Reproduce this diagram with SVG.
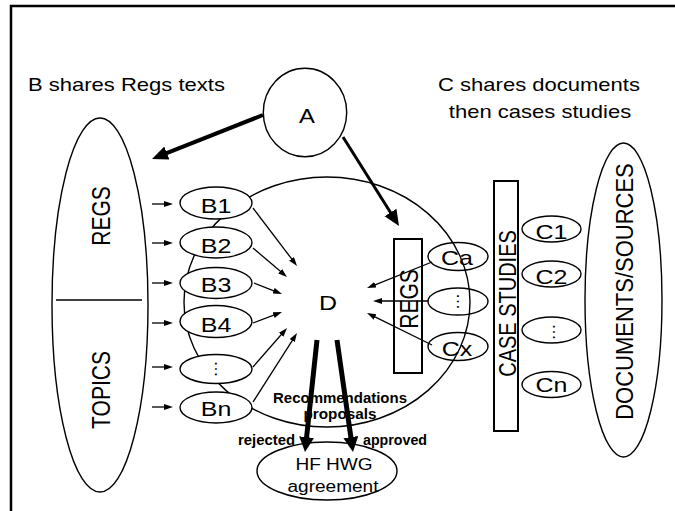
<svg xmlns="http://www.w3.org/2000/svg" width="675" height="511" viewBox="0 0 675 511">
<style>
text{font-family:"Liberation Sans",Arial,sans-serif;fill:#000}
.m{text-anchor:middle}
.h{font-size:18.5px}
.n{font-size:21px}
.b{font-size:15.5px;font-weight:bold;text-anchor:middle}
.sh{fill:#fff;stroke:#000;stroke-width:1.4}
.no{fill:none;stroke:#000;stroke-width:1.4}
.bx{fill:#fff;stroke:#000;stroke-width:2}
.dots{font-size:17px;text-anchor:middle}
.s{stroke:#000;stroke-width:1.3;fill:none;marker-end:url(#hs)}
.t4{stroke:#000;stroke-width:4;fill:none;marker-end:url(#hb)}
.t3{stroke:#000;stroke-width:3;fill:none;marker-end:url(#hb)}
.t5{stroke:#000;stroke-width:5;fill:none;marker-end:url(#hd)}
</style>
<defs>
<marker id="hs" markerUnits="userSpaceOnUse" markerWidth="10" markerHeight="7" refX="3" refY="3" orient="auto"><path d="M0,0 L9,3 L0,6 z" fill="#000"/></marker>
<marker id="hb" markerUnits="userSpaceOnUse" markerWidth="17" markerHeight="15" refX="3" refY="7" orient="auto"><path d="M0,0 L16,7 L0,14 z" fill="#000"/></marker>
<marker id="hd" markerUnits="userSpaceOnUse" markerWidth="16" markerHeight="16" refX="3" refY="7.5" orient="auto"><path d="M0,0 L15,7.5 L0,15 z" fill="#000"/></marker>
</defs>
<rect width="675" height="511" fill="#fff"/>
<path d="M11,512 V6 H676" fill="none" stroke="#000" stroke-width="2.5"/>
<g id="captions">
<text class="h" transform="translate(28,91) scale(1.19,1)">B shares Regs texts</text>
<text class="h m" transform="translate(539,91) scale(1.19,1)">C shares documents</text>
<text class="h m" transform="translate(540,118) scale(1.19,1)">then cases studies</text>
</g>
<g id="regs-topics">
<ellipse class="sh" cx="100" cy="305" rx="48" ry="187"/>
<line x1="56" y1="300" x2="142" y2="300" stroke="#000" stroke-width="1.6"/>
<text class="n m" font-size="20.5" transform="translate(110,216) scale(1.19,1) rotate(-90)">REGS</text>
<text class="n m" transform="translate(110,390) scale(1.19,1) rotate(-90)">TOPICS</text>
</g>
<g id="Ca"><ellipse class="sh" cx="458" cy="256.5" rx="30" ry="14"/><text class="n m" transform="translate(457,265) scale(1.19,1)">Ca</text></g>
<g id="Cdots"><ellipse class="sh" cx="458" cy="301.5" rx="30" ry="13.5"/><text class="dots" transform="translate(457,301.5) rotate(90)">…</text></g>
<g id="Cx"><ellipse class="sh" cx="458" cy="346.5" rx="30" ry="14"/><text class="n m" transform="translate(457,355.5) scale(1.19,1)">Cx</text></g>
<g id="D"><ellipse class="no" cx="327" cy="302" rx="143" ry="125"/><text class="n m" transform="translate(328,310) scale(1.19,1)">D</text></g>
<g id="B1"><ellipse class="sh" cx="216" cy="203" rx="36" ry="16"/><text class="n m" transform="translate(216,212.5) scale(1.19,1)">B1</text></g>
<g id="B2"><ellipse class="sh" cx="216" cy="242.5" rx="36" ry="15.5"/><text class="n m" transform="translate(216,252.5) scale(1.19,1)">B2</text></g>
<g id="B3"><ellipse class="sh" cx="216" cy="283" rx="36" ry="15.5"/><text class="n m" transform="translate(216,292) scale(1.19,1)">B3</text></g>
<g id="B4"><ellipse class="sh" cx="216" cy="321.5" rx="36" ry="16"/><text class="n m" transform="translate(216,331.5) scale(1.19,1)">B4</text></g>
<g id="Bdots"><ellipse class="sh" cx="216" cy="369" rx="36" ry="14.5"/><text class="dots" transform="translate(215,369) rotate(90)">…</text></g>
<g id="Bn"><ellipse class="sh" cx="216" cy="407.5" rx="36" ry="15.5"/><text class="n m" transform="translate(216,415.5) scale(1.19,1)">Bn</text></g>
<g id="A"><ellipse class="sh" cx="305" cy="112.5" rx="41.7" ry="44.2"/><text class="m" font-size="20" transform="translate(307,123) scale(1.19,1)">A</text></g>
<g id="regs-box"><rect class="bx" x="394" y="239" width="28" height="134"/><text class="n m" transform="translate(418,299) scale(1.19,1) rotate(-90)">REGS</text></g>
<g id="case-studies"><rect class="bx" x="494" y="181" width="24" height="250"/><text class="m" font-size="20" transform="translate(515.5,303.5) scale(1.19,1) rotate(-90)">CASE STUDIES</text></g>
<g id="C1"><ellipse class="sh" cx="551.5" cy="229" rx="29.5" ry="13"/><text class="n m" transform="translate(551.5,239) scale(1.19,1)">C1</text></g>
<g id="C2"><ellipse class="sh" cx="551.5" cy="274" rx="29.5" ry="13"/><text class="n m" transform="translate(551.5,283.5) scale(1.19,1)">C2</text></g>
<g id="Cdots2"><ellipse class="sh" cx="551.5" cy="330" rx="29.5" ry="13"/><text class="dots" transform="translate(553,332) rotate(90)">…</text></g>
<g id="Cn"><ellipse class="sh" cx="551.5" cy="384.5" rx="29.5" ry="13"/><text class="n m" transform="translate(551.5,392) scale(1.19,1)">Cn</text></g>
<g id="documents"><ellipse class="sh" cx="623.5" cy="300" rx="38.5" ry="157"/><text class="m" font-size="22" transform="translate(633,291.5) scale(1.12,1) rotate(-90)">DOCUMENTS/SOURCES</text></g>
<g id="HF"><ellipse class="sh" cx="327" cy="471" rx="70" ry="29"/><text class="m" font-size="16" transform="translate(334,470) scale(1.19,1)">HF HWG</text><text class="m" font-size="16" transform="translate(333,492) scale(1.19,1)">agreement</text></g>
<g id="connectors">
<line class="t4" x1="263" y1="115" x2="164.1" y2="154.2"/>
<line class="t3" x1="343" y1="137" x2="392.1" y2="215"/>
<line class="s" x1="152" y1="204" x2="167" y2="204"/>
<line class="s" x1="152" y1="243" x2="167" y2="243"/>
<line class="s" x1="152" y1="283" x2="167" y2="283"/>
<line class="s" x1="152" y1="323" x2="167" y2="323"/>
<line class="s" x1="152" y1="367" x2="167" y2="367"/>
<line class="s" x1="152" y1="407" x2="167" y2="407"/>
<line class="s" x1="253" y1="208" x2="293.4" y2="261.2"/>
<line class="s" x1="253" y1="248" x2="282.4" y2="273.1"/>
<line class="s" x1="254" y1="283" x2="276.4" y2="291.8"/>
<line class="s" x1="253" y1="323" x2="276.4" y2="314.1"/>
<line class="s" x1="253" y1="367" x2="283.1" y2="332.5"/>
<line class="s" x1="253" y1="402" x2="293.8" y2="338.1"/>
<line class="s" x1="432" y1="262" x2="372.6" y2="285.8"/>
<line class="s" x1="428" y1="301" x2="379" y2="301"/>
<line class="s" x1="432" y1="345" x2="372.4" y2="315.7"/>
<line class="t5" x1="317" y1="340" x2="306.3" y2="440.1"/>
<line class="t5" x1="337" y1="340" x2="351.3" y2="440.1"/>
<text class="b" x="340" y="403" textLength="134" lengthAdjust="spacingAndGlyphs">Recommendations</text>
<text class="b" x="340" y="419" textLength="73" lengthAdjust="spacingAndGlyphs">proposals</text>
<text class="b" x="266.5" y="445" font-size="15" textLength="57" lengthAdjust="spacingAndGlyphs">rejected</text>
<text class="b" x="395" y="445" font-size="15" textLength="64" lengthAdjust="spacingAndGlyphs">approved</text>
</g>
</svg>
